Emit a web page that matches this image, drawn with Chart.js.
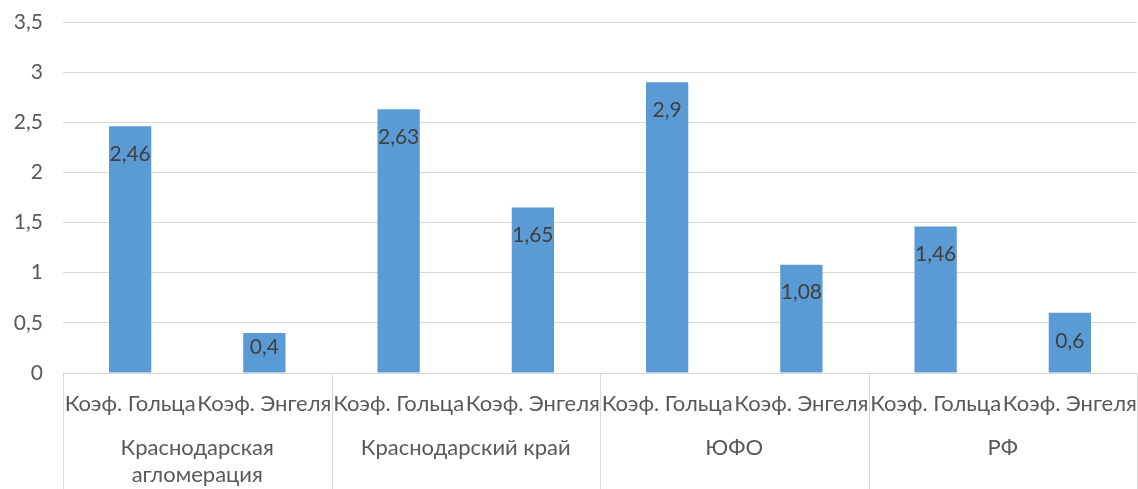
<!DOCTYPE html>
<html>
<head>
<meta charset="utf-8">
<script src="https://cdn.jsdelivr.net/npm/chart.js@4/dist/chart.umd.min.js"></script>
<style>
  html, body { margin: 0; padding: 0; background: #fff; overflow: hidden; }
  #wrap { position: absolute; left: 0; top: 0; width: 1138px; height: 500px; }
</style>
</head>
<body>
<div id="wrap"><canvas id="c"></canvas></div>
<script>
const categories = ['Коэф. Гольца', 'Коэф. Энгеля', 'Коэф. Гольца', 'Коэф. Энгеля', 'Коэф. Гольца', 'Коэф. Энгеля', 'Коэф. Гольца', 'Коэф. Энгеля'];
const groups = [['Краснодарская', 'агломерация'], 'Краснодарский край', 'ЮФО', 'РФ'];
const values = [2.46, 0.4, 2.63, 1.65, 2.9, 1.08, 1.46, 0.6];
const yTicks = [0, 0.5, 1, 1.5, 2, 2.5, 3, 3.5];

const FONT = 'Lato, "Open Sans", sans-serif';
const fmt = v => String(v).replace('.', ',');

const separators = {
  id: 'separators',
  afterDraw(chart) {
    const xs = chart.scales.x;
    const half = (xs.getPixelForValue(1) - xs.getPixelForValue(0)) / 2;
    const ctx = chart.ctx;
    ctx.save();
    ctx.strokeStyle = '#d9d9d9';
    ctx.lineWidth = 1;
    const n = categories.length;
    const top = chart.chartArea.bottom;
    for (let i = 0; i <= n; i += 2) {
      let x = Math.round(i < n ? xs.getPixelForValue(i) - half : xs.getPixelForValue(n - 1) + half);
      x = Math.min(x, chart.width - 1) + 0.5;
      ctx.beginPath();
      ctx.moveTo(x, top);
      ctx.lineTo(x, chart.height);
      ctx.stroke();
    }
    ctx.restore();
  }
};

const dataLabels = {
  id: 'dataLabels',
  afterDatasetsDraw(chart) {
    const ctx = chart.ctx;
    const meta = chart.getDatasetMeta(0);
    ctx.save();
    ctx.font = '21px ' + FONT;
    ctx.fillStyle = '#404040';
    ctx.textAlign = 'center';
    ctx.textBaseline = 'middle';
    meta.data.forEach((el, i) => {
      const h = el.base - el.y;
      const off = Math.min(28, h - 25);
      ctx.fillText(fmt(values[i]), el.x, el.y + off);
    });
    ctx.restore();
  }
};

new Chart(document.getElementById('c'), {
  type: 'bar',
  data: {
    labels: categories,
    datasets: [{
      data: values,
      backgroundColor: '#5b9bd5',
      borderWidth: 0,
      barPercentage: 1,
      categoryPercentage: 0.315
    }]
  },
  options: {
    responsive: true,
    maintainAspectRatio: false,
    animation: false,
    layout: { padding: { top: 22, right: 1, left: 0, bottom: 0 } },
    plugins: { legend: { display: false }, tooltip: { enabled: false } },
    scales: {
      y: {
        min: 0, max: 3.5,
        afterBuildTicks: s => { s.ticks = yTicks.map(v => ({ value: v })); },
        afterFit: s => { s.width = 63; s.paddingTop = 0; s.paddingBottom = 0; },
        ticks: { font: { size: 21, family: FONT }, color: '#595959', padding: 20, callback: v => fmt(v) },
        grid: { color: '#d9d9d9', tickLength: 0, drawTicks: false },
        border: { display: false }
      },
      x: {
        afterFit: s => { s.height = 42; s.paddingLeft = 0; s.paddingRight = 0; },
        grid: { display: false, drawTicks: false },
        border: { display: true, color: '#d9d9d9' },
        ticks: { font: { size: 22, family: FONT, lineHeight: 1.05 }, color: '#595959', autoSkip: false, maxRotation: 0, minRotation: 0, padding: 19 }
      },
      x2: {
        type: 'category',
        position: 'bottom',
        labels: groups,
        offset: true,
        afterFit: s => { s.height = 85; s.paddingLeft = 0; s.paddingRight = 0; },
        grid: { display: false, drawTicks: false },
        border: { display: false },
        ticks: { font: { size: 22, family: FONT, lineHeight: 1.2 }, color: '#595959', autoSkip: false, maxRotation: 0, minRotation: 0, padding: 20 }
      }
    }
  },
  plugins: [separators, dataLabels]
});
</script>
</body>
</html>
